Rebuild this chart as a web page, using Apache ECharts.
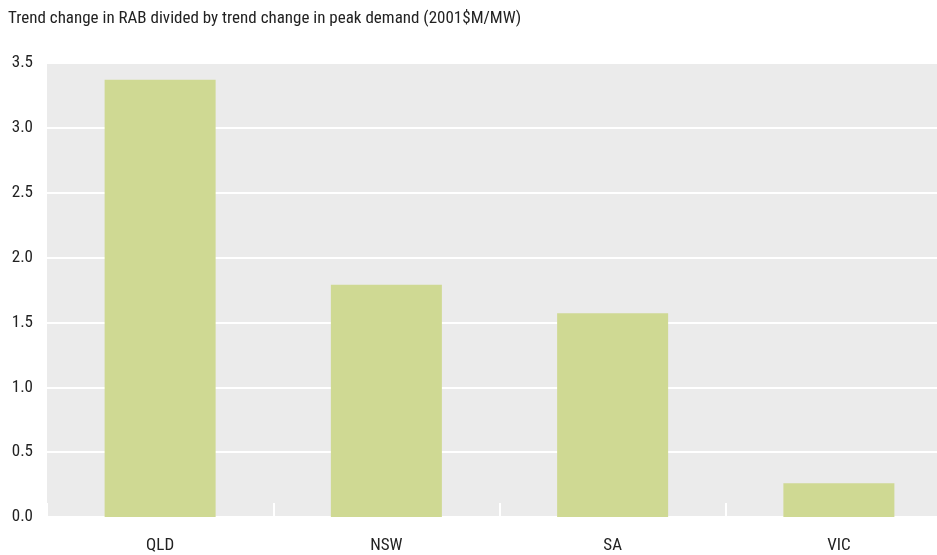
<!DOCTYPE html>
<html><head><meta charset="utf-8">
<script src="https://cdn.jsdelivr.net/npm/echarts@6/dist/echarts.min.js"></script>
<style>html,body{margin:0;padding:0;background:#fff;overflow:hidden}#c{width:952px;height:555px}</style>
</head><body><div id="c"></div>
<script>
const categories = ['QLD', 'NSW', 'SA', 'VIC'];
const values = [3.37, 1.79, 1.57, 0.26];
const yTicks = [0, 0.5, 1.0, 1.5, 2.0, 2.5, 3.0, 3.5];
const titleText = 'Trend change in RAB divided by trend change in peak demand (2001$M/MW)';
const FONT = '"Liberation Sans Narrow", "Roboto Condensed", "Arial Narrow", sans-serif';

const chart = echarts.init(document.getElementById('c'), null, {renderer: 'canvas'});
chart.setOption({
  animation: false,
  backgroundColor: '#fff',
  title: {text: titleText, left: 3, top: 5,
    textStyle: {fontFamily: FONT, fontSize: 17, fontWeight: 'normal', color: '#222'}},
  grid: {left: 47, right: 0, top: 63, bottom: 38, show: true, backgroundColor: '#ebebeb', borderWidth: 0},
  xAxis: {type: 'category', data: categories,
    axisLine: {show: false},
    axisTick: {show: true, inside: true, length: 14, interval: 0, lineStyle: {color: '#fff', width: 2}},
    axisLabel: {fontFamily: FONT, fontSize: 17, color: '#222', margin: 20}},
  yAxis: {type: 'value', min: 0, max: 3.5, interval: 0.5,
    axisLine: {show: false}, axisTick: {show: false},
    splitLine: {lineStyle: {color: '#fff', width: 2}},
    axisLabel: {fontFamily: FONT, fontSize: 17, color: '#222', margin: 14,
      formatter: v => yTicks.includes(v) ? v.toFixed(1) : ''}},
  series: [{type: 'bar', data: values, barWidth: 111, itemStyle: {color: '#cfd993'}}]
});
</script></body></html>
